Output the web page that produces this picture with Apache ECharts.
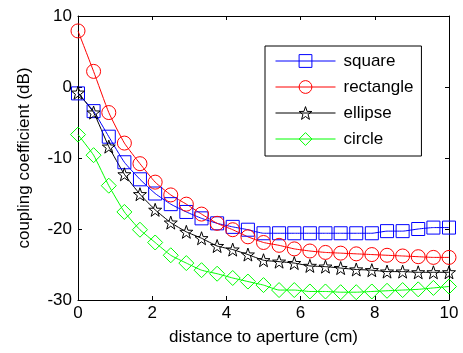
<!DOCTYPE html>
<html>
<head>
<meta charset="utf-8">
<script src="https://cdn.jsdelivr.net/npm/echarts@6/dist/echarts.min.js"></script>
<style>
  html, body { margin: 0; padding: 0; background: #fff; }
  #chart { width: 463px; height: 353px; }
</style>
</head>
<body>
<div id="chart"></div>
<script>
// distance to aperture (cm)
const distance = [0, 0.42, 0.83, 1.25, 1.67, 2.08, 2.5, 2.92, 3.33, 3.75, 4.17, 4.58, 5,
    5.42, 5.83, 6.25, 6.67, 7.08, 7.5, 7.92, 8.33, 8.75, 9.17, 9.58, 10];

// coupling coefficient (dB)
const square = [-0.9, -3.4, -7.0, -10.6, -13.0, -15.0, -16.5, -17.6, -18.5, -19.2, -19.7, -20.1, -20.6,
    -20.6, -20.6, -20.6, -20.6, -20.6, -20.6, -20.6, -20.3, -20.3, -20.0, -19.8, -19.8];
const rectangle = [7.9, 2.2, -3.6, -7.9, -10.8, -13.4, -15.2, -16.5, -17.9, -19.2, -20.1, -21.1, -21.9,
    -22.3, -22.8, -23.1, -23.3, -23.4, -23.5, -23.6, -23.7, -23.8, -23.9, -24.0, -24.0];
const ellipse = [-0.8, -3.6, -8.4, -12.3, -15.1, -17.3, -19.1, -20.4, -21.3, -22.4, -22.9, -23.6, -24.4,
    -24.6, -24.8, -25.2, -25.3, -25.5, -25.7, -25.8, -26.0, -26.0, -26.1, -26.1, -26.1];
const circle = [-6.7, -9.6, -13.9, -17.6, -20.1, -21.9, -23.7, -24.8, -25.8, -26.3, -26.9, -27.4, -27.9,
    -28.6, -28.6, -28.8, -28.8, -28.9, -28.9, -28.8, -28.7, -28.6, -28.5, -28.3, -28.1];

const xTicks = [0, 2, 4, 6, 8, 10];
const yTicks = [-30, -20, -10, 0, 10];

const starPath = 'path://M0,-10L2.35,-3.24L9.51,-3.09L3.8,1.24L5.88,8.09L0,4L-5.88,8.09L-3.8,1.24L-9.51,-3.09L-2.35,-3.24Z';
const font = 'Liberation Sans, Arial, sans-serif';
const fontSize = 17;
const hollow = 'rgba(255,255,255,0)';

function pairs(ys) {
    return ys.map((y, i) => [distance[i], y]);
}

function makeSeries(name, ys, color, symbol, size) {
    return {
        name: name,
        type: 'line',
        data: pairs(ys),
        symbol: symbol,
        symbolSize: size,
        showAllSymbol: true,
        smooth: 0.15,
        lineStyle: { color: color, width: 1 },
        itemStyle: { color: hollow, borderColor: color, borderWidth: 1 },
        emphasis: { disabled: true },
        animation: false
    };
}

const chart = echarts.init(document.getElementById('chart'));

const axisBase = {
    axisLine: { show: true, onZero: false, lineStyle: { color: '#000', width: 1 } },
    axisTick: { show: true, inside: true, length: 4, lineStyle: { color: '#000' } },
    splitLine: { show: false }
};

chart.setOption({
    backgroundColor: '#fff',
    animation: false,
    grid: { left: 78, right: 14, top: 16, bottom: 53 },
    legend: {
        left: 265,
        top: 46,
        orient: 'vertical',
        backgroundColor: '#fff',
        borderColor: '#000',
        borderWidth: 1,
        borderRadius: 0,
        padding: [6, 8, 8, 10],
        itemWidth: 60,
        itemHeight: 16,
        itemGap: 8,
        itemStyle: { color: hollow, borderWidth: 1 },
        lineStyle: { width: 1 },
        textStyle: { fontFamily: font, fontSize: fontSize, lineHeight: 18, color: '#000', padding: [0, 0, 0, 3] },
        data: ['square', 'rectangle', 'ellipse', 'circle']
    },
    xAxis: [
        Object.assign({}, axisBase, {
            type: 'value', min: 0, max: 10, interval: 2,
            name: 'distance to aperture (cm)',
            nameLocation: 'middle',
            nameGap: 29,
            nameTextStyle: { fontFamily: font, fontSize: fontSize, color: '#000' },
            axisLabel: {
                fontFamily: font, fontSize: fontSize, color: '#000', margin: 5,
                formatter: v => xTicks.includes(v) ? String(v) : ''
            }
        }),
        Object.assign({}, axisBase, {
            type: 'value', min: 0, max: 10, interval: 2, position: 'top',
            axisLabel: { show: false }
        })
    ],
    yAxis: [
        Object.assign({}, axisBase, {
            type: 'value', min: -30, max: 10, interval: 10,
            name: 'coupling coefficient (dB)',
            nameLocation: 'middle',
            nameGap: 45,
            nameTextStyle: { fontFamily: font, fontSize: fontSize, color: '#000' },
            axisLabel: {
                fontFamily: font, fontSize: fontSize, color: '#000', margin: 6,
                formatter: v => yTicks.includes(v) ? String(v) : ''
            }
        }),
        Object.assign({}, axisBase, {
            type: 'value', min: -30, max: 10, interval: 10, position: 'right',
            axisLabel: { show: false }
        })
    ],
    series: [
        makeSeries('square', square, '#0000ff', 'rect', 13),
        makeSeries('rectangle', rectangle, '#ff0000', 'circle', 14),
        makeSeries('ellipse', ellipse, '#000000', starPath, 13),
        makeSeries('circle', circle, '#00ff00', 'diamond', 15)
    ]
});
</script>
</body>
</html>
